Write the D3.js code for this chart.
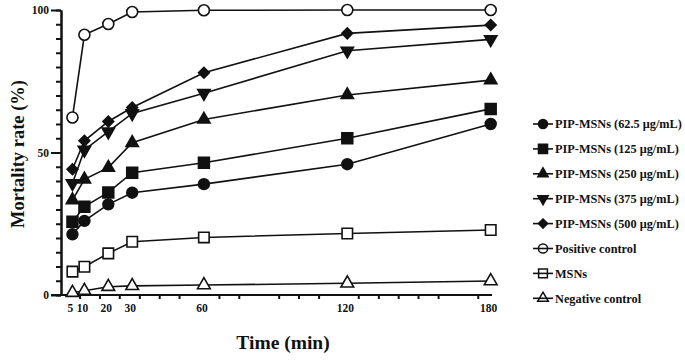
<!DOCTYPE html>
<html>
<head>
<meta charset="utf-8">
<script src="https://cdn.jsdelivr.net/npm/d3@7"></script>
<style>
  body { margin: 0; background: #fff; }
  svg { display: block; }
  text { font-family: "Liberation Serif", "Times New Roman", serif; font-weight: bold; fill: #111; }
</style>
</head>
<body>
<svg id="chart" width="685" height="360"></svg>
<script>
// values (mortality %, per time point)
var times = [5, 10, 20, 30, 60, 120, 180];
var pip62 = [21.3, 26.0, 31.8, 35.9, 38.9, 45.9, 60.0];
var pip125 = [25.7, 31.0, 36.0, 42.9, 46.4, 55.0, 65.3];
var pip250 = [33.3, 40.6, 44.7, 53.4, 61.6, 70.2, 75.4];
var pip375 = [39.2, 50.9, 57.3, 63.7, 70.8, 85.7, 89.7];
var pip500 = [44.1, 54.1, 60.9, 65.8, 78.0, 91.8, 94.7];
var positive = [62.3, 91.3, 95.1, 99.3, 99.9, 100, 100];
var msns = [8.2, 9.9, 14.6, 18.7, 20.2, 21.6, 22.8];
var negative = [0.8, 1.5, 2.9, 3.2, 3.5, 4.1, 4.9];

var seriesNames = ["PIP-MSNs (62.5 μg/mL)", "PIP-MSNs (125 μg/mL)", "PIP-MSNs (250 μg/mL)",
  "PIP-MSNs (375 μg/mL)", "PIP-MSNs (500 μg/mL)", "Positive control", "MSNs", "Negative control"];
var seriesValues = [pip62, pip125, pip250, pip375, pip500, positive, msns, negative];

var xTickLabels = [5, 10, 20, 30, 60, 120, 180];
var xMinorTicks = [8.2, 16.5, 24.8, 33.2, 41.5, 49.8, 66.5, 74.8, 91.5, 99.8, 108.2, 124.8, 133.2, 141.5, 149.8, 158.2, 174.8];
var yMajorTicks = [0, 50, 100];
var yMinorTicks = d3.range(0, 101, 5);

// marker style per series
var shapes = [
  {type: d3.symbolCircle, size: 92, fill: "#111", rot: 0},
  {type: d3.symbolSquare, size: 118, fill: "#111", rot: 0},
  {type: d3.symbolTriangle, size: 66, fill: "#111", rot: 0},
  {type: d3.symbolTriangle, size: 66, fill: "#111", rot: 180},
  {type: d3.symbolSquare, size: 58, fill: "#111", rot: 45},
  {type: d3.symbolCircle, size: 95, fill: "#fff", rot: 0},
  {type: d3.symbolSquare, size: 110, fill: "#fff", rot: 0},
  {type: d3.symbolTriangle, size: 70, fill: "#fff", rot: 0}
];

var svg = d3.select("#chart");

var x = d3.scaleLinear().domain([0, 180]).range([60.5, 490.7]);
var y = d3.scaleLinear().domain([0, 100]).range([295, 10]);

// y axis
var yAxisG = svg.append("g").attr("transform", "translate(61,0)");
yAxisG.call(d3.axisLeft(y).tickValues(yMinorTicks).tickSize(5).tickSizeOuter(0).tickFormat(""));
yAxisG.append("g").call(d3.axisLeft(y).tickValues(yMajorTicks).tickSize(10).tickSizeOuter(0).tickPadding(2));
yAxisG.selectAll("path, line").attr("stroke", "#111").attr("stroke-width", 2);
yAxisG.selectAll("text").attr("font-size", 11.5).style("font-family", "Liberation Serif").style("font-weight", "bold").attr("fill", "#111");

// x axis
var xAxisG = svg.append("g").attr("transform", "translate(0,295)");
xAxisG.append("line").attr("x1", 51).attr("x2", 492).attr("y1", 0).attr("y2", 0)
  .attr("stroke", "#111").attr("stroke-width", 2);
xAxisG.selectAll(".minor").data(xMinorTicks).enter().append("line")
  .attr("class", "minor")
  .attr("x1", function(d){ return x(d) }).attr("x2", function(d){ return x(d) })
  .attr("y1", 0).attr("y2", 4)
  .attr("stroke", "#111").attr("stroke-width", 2);
xAxisG.selectAll(".xlab").data(xTickLabels).enter().append("text")
  .attr("class", "xlab")
  .attr("x", function(d){ return x(d) - 2 })
  .attr("y", 17)
  .attr("text-anchor", "middle")
  .attr("font-size", 11.5)
  .text(function(d){ return d });

// axis titles
svg.append("text").attr("x", 283).attr("y", 349).attr("text-anchor", "middle")
  .attr("font-size", 19.5).text("Time (min)");
svg.append("text").attr("transform", "translate(24,154) rotate(-90)").attr("text-anchor", "middle")
  .attr("font-size", 18.5).text("Mortality rate (%)");

var line = d3.line()
  .x(function(d, i){ return x(times[i]) })
  .y(function(d){ return y(d) });

function symPath(s){
  return d3.symbol().type(s.type).size(s.size)();
}

// lines first, then markers on top
seriesValues.forEach(function(vals){
  svg.append("path").datum(vals).attr("d", line)
    .attr("fill", "none").attr("stroke", "#111").attr("stroke-width", 1.6);
});
seriesValues.forEach(function(vals, k){
  var s = shapes[k];
  svg.append("g").selectAll("path").data(vals).enter().append("path")
    .attr("d", symPath(s))
    .attr("transform", function(d, i){ return "translate(" + x(times[i]) + "," + y(d) + ") rotate(" + s.rot + ")" })
    .attr("fill", s.fill).attr("stroke", "#111").attr("stroke-width", 1.6);
});

// legend
var legend = svg.append("g").attr("transform", "translate(533,124)");
seriesNames.forEach(function(name, k){
  var s = shapes[k];
  var g = legend.append("g").attr("transform", "translate(0," + (k * 24.9) + ")");
  var small = {type: s.type, size: s.size * 0.7};
  g.append("path").attr("d", symPath(small))
    .attr("transform", "translate(10,0) rotate(" + s.rot + ")")
    .attr("fill", s.fill).attr("stroke", "#111").attr("stroke-width", 1.5);
  g.append("line").attr("x1", 0).attr("x2", 20).attr("y1", 0).attr("y2", 0)
    .attr("stroke", "#111").attr("stroke-width", 1.6);
  g.append("text").attr("x", 22).attr("y", 0).attr("dy", "0.35em")
    .attr("font-size", 12.3).text(name);
});
</script>
</body>
</html>
